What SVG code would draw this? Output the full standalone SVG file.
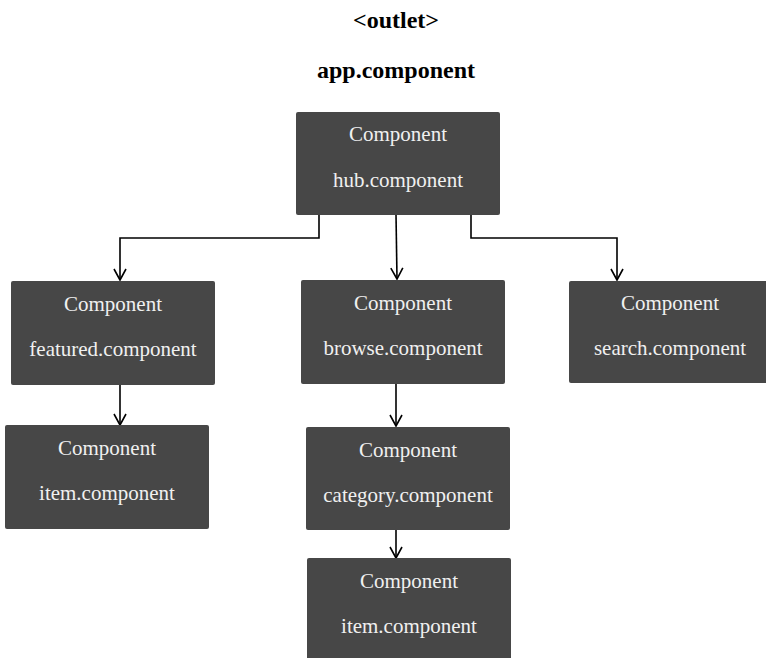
<svg xmlns="http://www.w3.org/2000/svg" width="766" height="658" viewBox="0 0 766 658">
<defs>
<style>
.box{fill:#474747;}
.t{font-family:"Liberation Serif","Times New Roman",serif;font-size:21px;fill:#f0f0f0;text-anchor:middle;}
.title{font-family:"Liberation Serif","Times New Roman",serif;font-size:24px;font-weight:bold;fill:#000;text-anchor:middle;}
.c{fill:none;stroke:#000;stroke-width:1.6;}
</style>
<marker id="arr" viewBox="0 0 14 14" refX="12" refY="7" markerWidth="14" markerHeight="14" markerUnits="userSpaceOnUse" orient="auto">
<path d="M1,1 L12,7 L1,13" fill="none" stroke="#000" stroke-width="1.6"/>
</marker>
</defs>
<rect width="766" height="658" fill="#fff"/>
<text class="title" x="396" y="28">&lt;outlet&gt;</text>
<text class="title" x="396" y="78">app.component</text>
<g id="connectors">
<path class="c" d="M319,214 V238 H120 V280" marker-end="url(#arr)"/>
<path class="c" d="M396,214 L397,279" marker-end="url(#arr)"/>
<path class="c" d="M471,214 V238 H617 V280" marker-end="url(#arr)"/>
<path class="c" d="M120,385 V425" marker-end="url(#arr)"/>
<path class="c" d="M396,384 V426" marker-end="url(#arr)"/>
<path class="c" d="M396,530 V558" marker-end="url(#arr)"/>
</g>
<g id="hub">
<rect class="box" x="296" y="112" width="204" height="103" rx="2"/>
<text class="t" x="398" y="141">Component</text>
<text class="t" x="398" y="187">hub.component</text>
</g>
<g id="featured">
<rect class="box" x="11" y="281" width="204" height="104" rx="2"/>
<text class="t" x="113" y="311">Component</text>
<text class="t" x="113" y="356">featured.component</text>
</g>
<g id="browse">
<rect class="box" x="301" y="280" width="204" height="104" rx="2"/>
<text class="t" x="403" y="310">Component</text>
<text class="t" x="403" y="355">browse.component</text>
</g>
<g id="search">
<rect class="box" x="569" y="281" width="199" height="102" rx="2"/>
<text class="t" x="670" y="310">Component</text>
<text class="t" x="670" y="355">search.component</text>
</g>
<g id="item1">
<rect class="box" x="5" y="425" width="204" height="104" rx="2"/>
<text class="t" x="107" y="455">Component</text>
<text class="t" x="107" y="500">item.component</text>
</g>
<g id="category">
<rect class="box" x="306" y="427" width="204" height="103" rx="2"/>
<text class="t" x="408" y="457">Component</text>
<text class="t" x="408" y="502">category.component</text>
</g>
<g id="item2">
<rect class="box" x="307" y="558" width="204" height="104" rx="2"/>
<text class="t" x="409" y="588">Component</text>
<text class="t" x="409" y="633">item.component</text>
</g>
</svg>
